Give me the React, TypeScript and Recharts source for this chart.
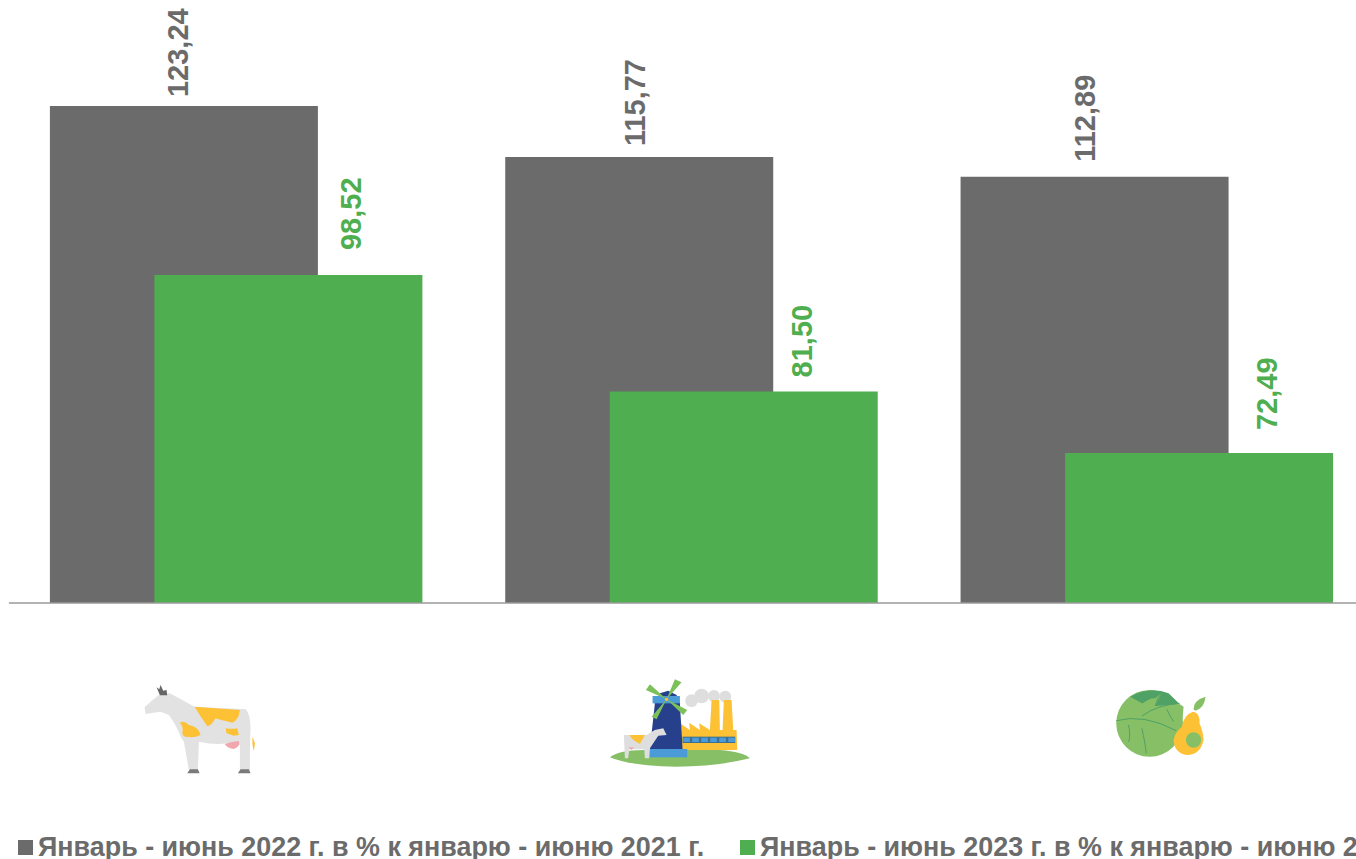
import { BarChart, Bar, XAxis, YAxis, Legend, LabelList } from 'recharts'

const categories = ['cow', 'mill', 'veg']
const values2022 = [123.24, 115.77, 112.89]
const values2023 = [98.52, 81.5, 72.49]
const name2022 = 'Январь - июнь 2022 г. в % к январю - июню 2021 г.'
const name2023 = 'Январь - июнь 2023 г. в % к январю - июню 2022 г.'

const data = categories.map((key, i) => ({
  key,
  y2022: values2022[i],
  y2023: values2023[i],
}))

const GRAY = '#6b6b6b'
const GREEN = '#4fae4f'
const YELLOW = '#fdc135'
const LEAF = '#86bf66'
const FONT = '"Liberation Sans", Arial, sans-serif'

// the labels in the source were placed by hand, so each one has its own nudge
const nudge2022 = [[-6, 9], [-5, 11], [-10, 15]]
const nudge2023 = [[62, 25], [58, 14], [67, 23]]

function CowIcon() {
  return (
    <g>
      <path d="M72 112 Q95 90 115 75 L148 70 L222 110 L375 118 Q388 130 390 170 L388 235 L388 300 L358 300 L358 225 Q340 215 320 220 Q280 225 235 215 L232 300 L205 300 L190 215 L180 200 Q170 170 145 135 L120 125 L75 132 Z" fill="#e2e2e2" />
      <path d="M222 110 L358 120 Q355 150 335 158 Q300 150 285 145 Q270 170 260 168 Q240 140 222 110 Z" fill={YELLOW} />
      <path d="M178 158 Q190 150 205 165 Q235 170 240 195 Q215 205 205 200 Q190 205 185 190 Q190 170 178 158 Z" fill={YELLOW} />
      <path d="M315 175 Q335 178 350 175 L355 195 L340 197 L318 190 Z" fill={YELLOW} />
      <path d="M312 222 Q335 215 355 213 Q360 230 340 237 Q322 235 312 222 Z" fill="#f0a8ae" />
      <path d="M200 310 L208 298 L232 298 L237 310 Z M352 310 L360 298 L385 298 L390 310 Z" fill="#7a7a7a" />
      <path d="M108 52 L118 76 L140 76 L138 60 L128 62 L120 45 L116 58 Z" fill="#666666" />
      <path d="M396 200 L403 220 L400 243 Q394 225 396 200 Z" fill={YELLOW} />
    </g>
  )
}

function MillIcon() {
  return (
    <g>
      <path d="M30 262 Q60 240 130 240 L360 240 Q430 245 450 265 Q350 290 230 290 Q90 288 30 262 Z" fill={LEAF} />
      <circle cx={275} cy={92} r={19} fill="#dedede" />
      <circle cx={305} cy={78} r={22} fill="#dedede" />
      <circle cx={342} cy={78} r={18} fill="#dedede" />
      <circle cx={376} cy={80} r={18} fill="#dedede" />
      <path d="M335 90 L358 90 L360 180 L330 180 Z M372 90 L395 90 L400 180 L368 180 Z" fill={YELLOW} />
      <path d="M240 160 L270 180 L268 158 L300 180 L298 160 L330 180 L410 180 L412 240 L240 240 Z" fill={YELLOW} />
      <rect x={248} y={200} width={158} height={19} fill="#3d6f8f" />
      {[250, 277, 304, 331, 358, 385].map((wx) => (
        <rect key={wx} x={wx} y={203} width={20} height={13} fill="#4a9bd8" />
      ))}
      <path d="M165 100 L180 70 L205 62 L230 75 L240 100 L248 237 L150 237 Z" fill="#27408b" />
      <rect x={158} y={78} width={82} height={22} fill="#4a9bd8" />
      <rect x={148} y={237} width={114} height={25} fill="#4a9bd8" />
      <path d="M200 88 L138 60 L150 43 Z M200 88 L225 28 L245 37 Z M200 88 L262 120 L250 135 Z M200 88 L155 140 L170 148 Z" fill="#7cc05a" />
      <circle cx={200} cy={88} r={5} fill={YELLOW} />
      <path d="M72 195 L140 195 L165 180 L190 175 L200 195 L175 197 L150 235 L148 265 L135 265 L133 238 L88 238 L85 265 L75 265 Z" fill="#dedede" />
      <path d="M88 195 L135 195 L120 222 L100 210 Z" fill={YELLOW} />
      <path d="M85 232 L102 232 L95 240 Z" fill="#f0a8ae" />
    </g>
  )
}

function VegIcon() {
  return (
    <g>
      <circle cx={148} cy={130} r={100} fill={LEAF} />
      <path d="M90 50 Q150 18 205 40 L238 72 L160 82 L125 70 Z" fill="#4fa165" />
      <path d="M125 72 Q150 52 165 55 L185 38 L165 78 L238 72 L250 80 L245 140 L225 150 L130 112 Z" fill={LEAF} />
      <path d="M48 122 Q130 100 228 152 M125 108 Q170 75 238 70 M165 78 Q170 55 185 38 M85 135 Q92 170 85 185 M125 145 Q135 190 138 220 M200 88 Q210 110 220 125" fill="none" stroke="#4fa165" strokeWidth={3} />
      <path d="M278 95 Q300 98 298 130 Q310 160 310 180 Q300 225 260 225 Q222 220 220 180 Q225 155 245 140 Q250 105 278 95 Z" fill={YELLOW} />
      <circle cx={280} cy={180} r={23} fill={LEAF} />
      <path d="M280 88 Q280 60 316 50 Q312 85 285 92 Z" fill={LEAF} />
    </g>
  )
}

const icons: Record<string, { dx: number; top: number; draw: () => any }> = {
  cow: { dx: 116, top: 670, draw: CowIcon },
  mill: { dx: 92, top: 670, draw: MillIcon },
  veg: { dx: 47, top: 680, draw: VegIcon },
}

function IconTick({ x, payload }: any) {
  const icon = icons[payload.value]
  return (
    <g transform={`translate(${x - icon.dx},${icon.top}) scale(${1 / 3})`}>
      {icon.draw()}
    </g>
  )
}

const rotatedLabel = (color: string, nudges: number[][]) => (props: any) => {
  const { x, y, width, value, index } = props
  const cx = x + width / 2 + nudges[index][0]
  const cy = y - nudges[index][1]
  return (
    <text
      x={cx}
      y={cy}
      dy="0.36em"
      transform={`rotate(-90 ${cx} ${cy})`}
      fill={color}
      fontSize={29}
      fontWeight={700}
      fontFamily={FONT}
    >
      {Number(value).toFixed(2).replace('.', ',')}
    </text>
  )
}

function LegendRow() {
  const items = [
    { name: name2022, color: GRAY, left: 18 },
    { name: name2023, color: GREEN, left: 740 },
  ]
  return (
    <div style={{ position: 'relative', height: 60, width: 1380 }}>
      {items.map((item) => (
        <div key={item.name} style={{ position: 'absolute', left: item.left, top: 36, display: 'flex', alignItems: 'center', whiteSpace: 'nowrap' }}>
          <span style={{ width: 15, height: 15, background: item.color, marginRight: 5, flex: 'none' }} />
          <span style={{ color: GRAY, fontSize: 26.9, fontWeight: 700, fontFamily: FONT, lineHeight: '24px' }}>{item.name}</span>
        </div>
      ))}
    </div>
  )
}

export default function App() {
  return (
    <div style={{ position: 'fixed', left: 0, top: 0, width: 1356, height: 859, overflow: 'hidden', background: '#fff' }}>
      <BarChart
        width={1380}
        height={859}
        data={data}
        margin={{ top: 0, right: 5.1, bottom: 0, left: 8.9 }}
        barSize={268}
        barGap={-163.5}
      >
        <XAxis
          dataKey="key"
          interval={0}
          height={196}
          tickLine={false}
          axisLine={{ stroke: '#9a9a9a', strokeWidth: 1.5 }}
          tick={<IconTick />}
        />
        <YAxis hide domain={[50.55, 138.75]} allowDataOverflow />
        <Legend verticalAlign="bottom" height={60} content={<LegendRow />} wrapperStyle={{ left: 0, bottom: 0, width: 1380 }} />
        <Bar dataKey="y2022" name={name2022} fill={GRAY} isAnimationActive={false}>
          <LabelList dataKey="y2022" content={rotatedLabel(GRAY, nudge2022)} />
        </Bar>
        <Bar dataKey="y2023" name={name2023} fill={GREEN} isAnimationActive={false}>
          <LabelList dataKey="y2023" content={rotatedLabel(GREEN, nudge2023)} />
        </Bar>
      </BarChart>
    </div>
  )
}
